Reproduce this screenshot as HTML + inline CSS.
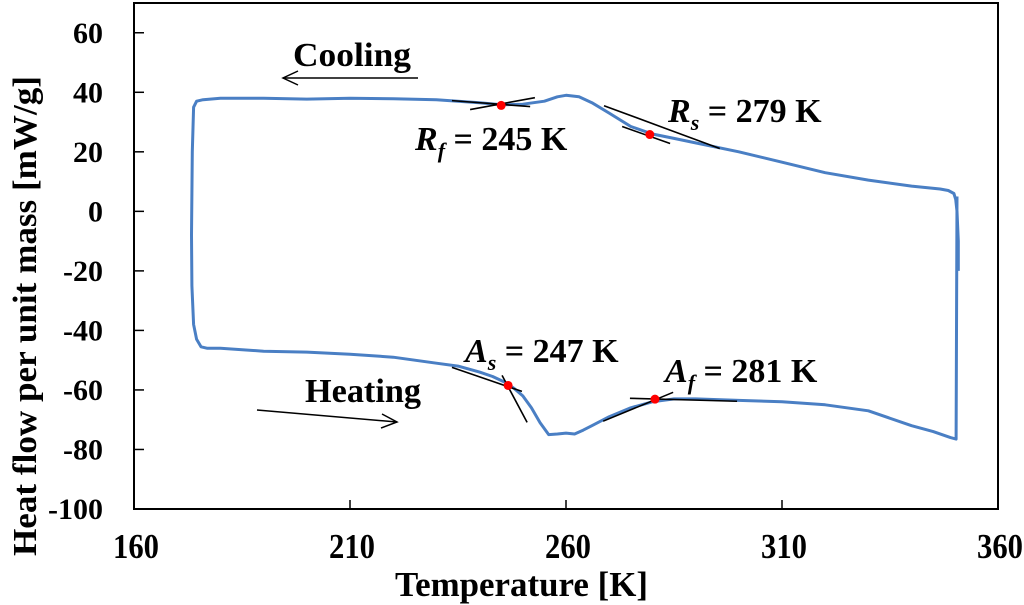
<!DOCTYPE html>
<html><head><meta charset="utf-8"><style>
html,body{margin:0;padding:0;background:#fff;}
svg{display:block;font-family:"Liberation Serif",serif;font-weight:bold;}
</style></head><body>
<svg id="c" width="1024" height="605" viewBox="0 0 1024 605">
<rect x="134" y="3" width="864" height="506" fill="none" stroke="#000" stroke-width="2"/>
<g id="ticks"></g>
<g id="marks"></g>
<text x="395" y="596" font-size="35" textLength="253" lengthAdjust="spacingAndGlyphs">Temperature [K]</text>
<text transform="translate(36,556) rotate(-90)" font-size="34" textLength="480" lengthAdjust="spacingAndGlyphs">Heat flow per unit mass [mW/g]</text>
<text x="293" y="66" font-size="34" textLength="118" lengthAdjust="spacingAndGlyphs">Cooling</text>
<g stroke="#000" stroke-width="1.5" fill="none"><line x1="418" y1="78" x2="283" y2="78"/><polyline points="298,71 283,78 298,85"/></g>
<text x="305" y="402" font-size="34" textLength="116" lengthAdjust="spacingAndGlyphs">Heating</text>
<g stroke="#000" stroke-width="1.5" fill="none"><line x1="257" y1="410" x2="397" y2="422"/><polyline points="382,414 397,422 381,428"/></g>
<text x="415" y="150" font-size="34"><tspan font-style="italic">R</tspan><tspan font-style="italic" font-size="22" dy="8">f</tspan><tspan dy="-8"> = 245 K</tspan></text>
<text x="668" y="122" font-size="34"><tspan font-style="italic">R</tspan><tspan font-style="italic" font-size="22" dy="8">s</tspan><tspan dy="-8"> = 279 K</tspan></text>
<text x="465" y="362" font-size="34"><tspan font-style="italic">A</tspan><tspan font-style="italic" font-size="22" dy="8">s</tspan><tspan dy="-8"> = 247 K</tspan></text>
<text x="665" y="382" font-size="34"><tspan font-style="italic">A</tspan><tspan font-style="italic" font-size="22" dy="8">f</tspan><tspan dy="-8"> = 281 K</tspan></text>
</svg>
<script>
const xTicks=[160,210,260,310,360];
const yTicks=[60,40,20,0,-20,-40,-60,-80,-100];
const loopT=[350.8,350.8,350.5,350.2,349.8,348.5,346.6,340,330,320,310,300,290,285,280,275,270,266,263,260,258,255,250,245,240,235,230,220,210,200,190,185,180,176,174.5,173.8,173.5,173.3,173.4,173.8,174.5,175.5,177,180,190,200,210,220,230,235,240,243,246,248,250,252,254,256,258,260,262,264,266,270,275,280,285,290,300,310,320,330,340,345,349,350.3,350.5];
const loopH=[-20,-10,0,4,6,7,7.5,8.5,10.5,13,16.5,20,23,24.5,26,28.5,33,36.5,38.5,39,38.5,37,36,35.8,36.5,37,37.5,37.8,38,37.7,38,38,38,37.5,37,35,20,-8,-25,-38,-43,-45.5,-46,-46,-47,-47.3,-48,-49,-51,-52,-54,-55.5,-57.5,-59.5,-62,-66,-71,-75,-74.8,-74.5,-74.8,-73.5,-72,-69,-66,-64,-63,-63,-63.5,-64,-65,-67,-72,-74,-76,-76.5,5];
const tangentLines=[[233.6,37.2,251.7,35.2],[237.8,34.2,252.8,38.2],[268.8,35.5,295.6,21.1],[273,28.5,284.1,22.8],[233.6,-52.4,249.8,-60.5],[245.2,-55.1,251,-70.9],[274.8,-62.8,299.6,-63.8],[268.6,-70.5,284.8,-60.8]];
const pointT=[245,279.4,246.6,280.6];
const pointH=[35.6,25.8,-58.5,-63.1];
const NS='http://www.w3.org/2000/svg';
const X=t=>134+(t-160)*864/200;
const Y=v=>509-(v+100)*506/170;
function mk(tag,a,p){const e=document.createElementNS(NS,tag);for(const k in a)e.setAttribute(k,a[k]);p.appendChild(e);return e;}
const tk=document.getElementById('ticks'),mg=document.getElementById('marks');
xTicks.forEach(t=>{
 if(t>160&&t<360){const l=mk('line',{x1:X(t),x2:X(t),y1:509,y2:500,stroke:'#000','stroke-width':1.5},tk);
 
 }
 const s=mk('text',{x:X(t)-21,y:558,'font-size':35,textLength:46,lengthAdjust:'spacingAndGlyphs'},tk);s.textContent=t;
 
 
});
yTicks.forEach(v=>{
 if(v>-100){const l=mk('line',{x1:134,x2:144,y1:Y(v),y2:Y(v),stroke:'#000','stroke-width':1.5},tk);
 
 }
 const s=mk('text',{x:103,y:Y(v)+10,'text-anchor':'end','font-size':30},tk);s.textContent=v;
 
 
});
const pts=loopT.map((t,i)=>X(t).toFixed(1)+','+Y(loopH[i]).toFixed(1)).join(' ');
const pl=mk('polyline',{points:pts,fill:'none',stroke:'#4a7fc4','stroke-width':3,'stroke-linejoin':'round'},mg);


tangentLines.forEach(d=>{
 const l=mk('line',{x1:X(d[0]),y1:Y(d[1]),x2:X(d[2]),y2:Y(d[3]),stroke:'#000','stroke-width':1.6},mg);
 
 
});
pointT.forEach((t,i)=>{
 const c=mk('circle',{cx:X(t),cy:Y(pointH[i]),r:4.5,fill:'#ff0000'},mg);
 
 
});
</script>
</body></html>
